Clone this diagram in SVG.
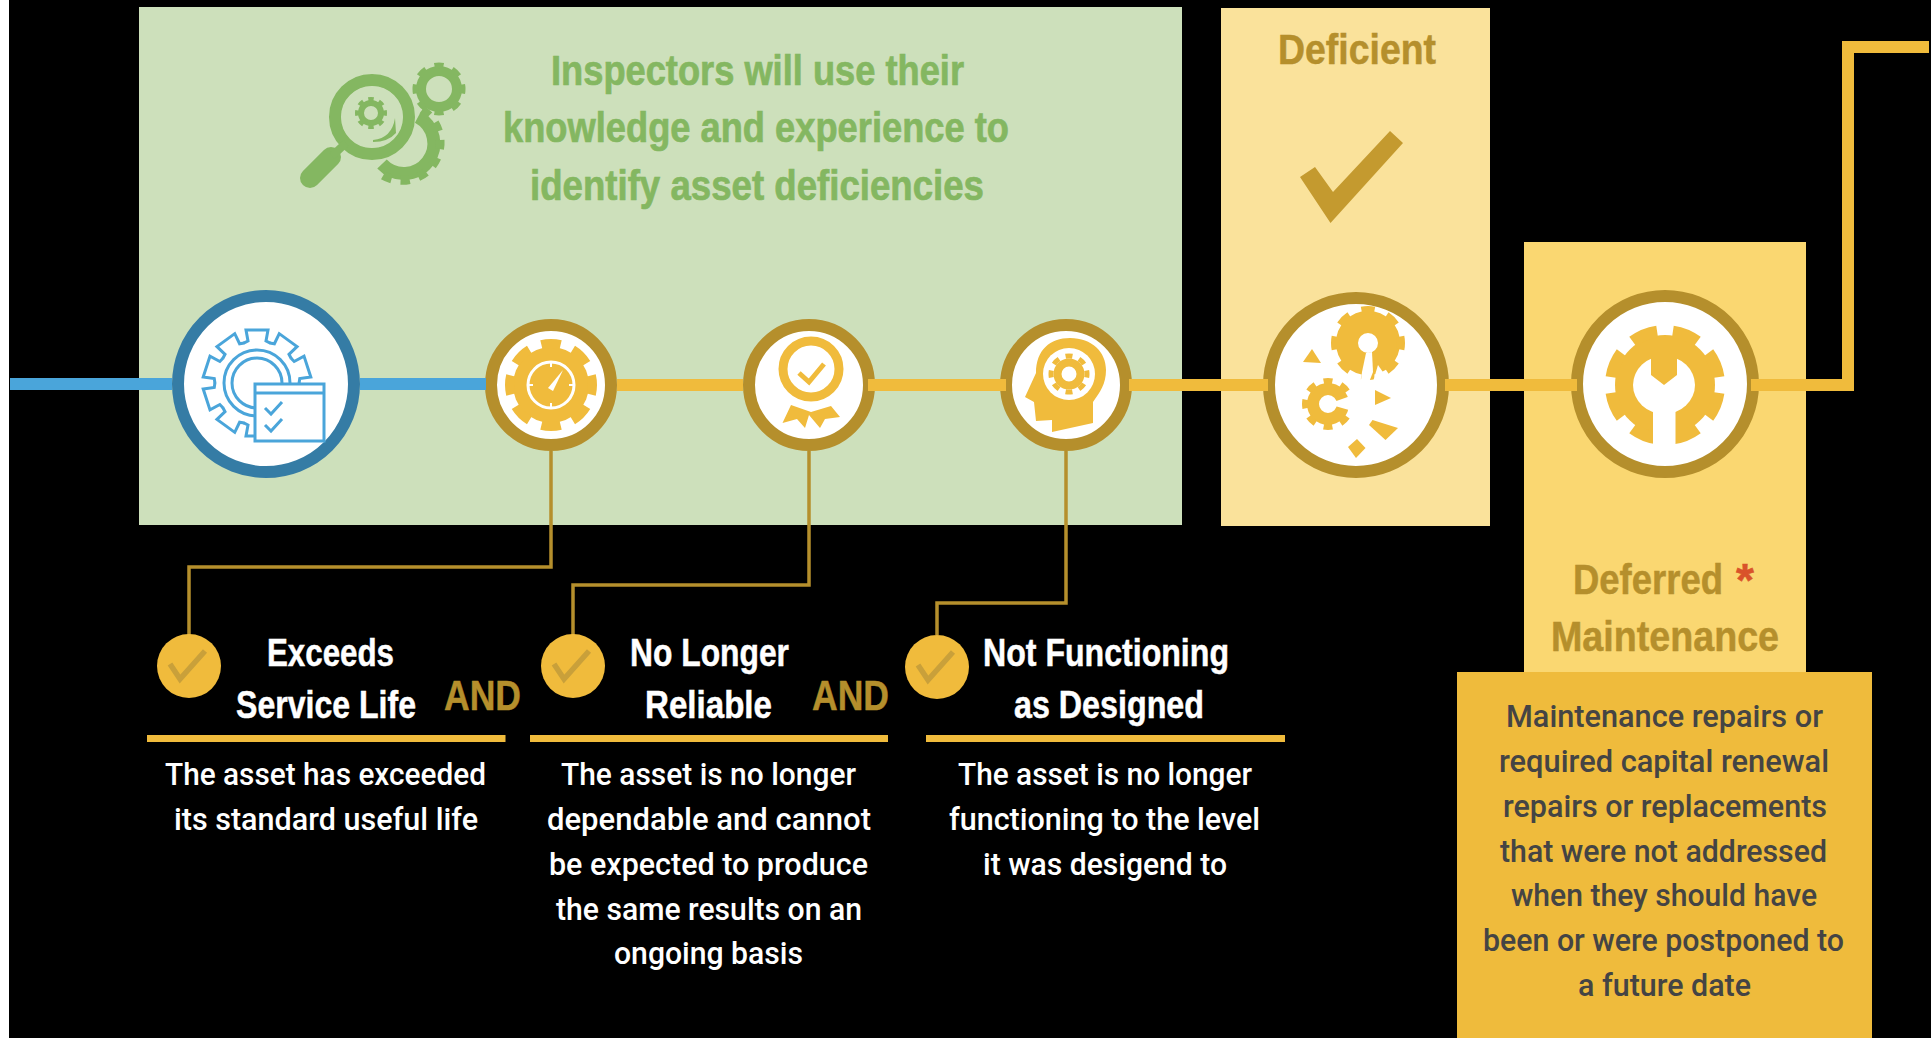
<svg xmlns="http://www.w3.org/2000/svg" width="1931" height="1038" viewBox="0 0 1931 1038">
<style>
.h{font-family:"Liberation Sans Narrow","Liberation Sans",sans-serif;font-weight:700}
.b{font-family:Roboto,"Liberation Sans",sans-serif;font-weight:500;font-size:32px;fill:#fff}
.hw{font-size:39px;fill:#fff;stroke:#fff;stroke-width:.5}
.and{font-size:43px;fill:#b58f2c;stroke:#b58f2c;stroke-width:.5}
.grn{font-size:42px;fill:#84b761;stroke:#84b761;stroke-width:.7}
.gold{font-size:42px;fill:#b58f2c;stroke:#b58f2c;stroke-width:.5}
.dk{fill:#444444}
.ring-b{fill:#fff;stroke:#357ca5;stroke-width:12}
.ring-g{fill:#fff;stroke:#b58f2c;stroke-width:12}
.y{fill:#f0bb3c}
.w{fill:#fff}
.main{fill:none;stroke:#f0bb3c;stroke-width:12}
.blue{fill:none;stroke:#4aa5da;stroke-width:12}
.thin{fill:none;stroke:#b58f2c;stroke-width:3.5}
.rule{fill:#f0bb3c}
.ol{fill:none;stroke:#4aa5da;stroke-width:3}
.chk{fill:none;stroke:#c9a03a;stroke-width:5.5}
</style>
<defs>
<path id="tooth" d="M-13.3-39.9L-9-42L-11-53H11L9-42L13.3-39.9"/>
<g id="tick"><circle r="32" class="y"/><path class="chk" d="M-19-2L-9 13L16-15"/></g>
</defs>
<rect width="1931" height="1038" fill="#000"/>
<rect width="9" height="1038" fill="#fff"/>

<rect id="panel-green" x="139" y="7" width="1043" height="518" fill="#cde0bb"/>
<rect id="panel-deficient" x="1221" y="8" width="269" height="518" fill="#fae29b"/>
<rect id="panel-deferred" x="1524" y="242" width="282" height="440" fill="#fad771"/>
<rect id="panel-definition" x="1457" y="672" width="415" height="366" fill="#efbb3c"/>

<g id="inspect-icon">
<circle cx="372" cy="117" r="37" fill="none" stroke="#84b761" stroke-width="12"/>
<path d="M310 178L331 157" stroke="#84b761" stroke-width="20" stroke-linecap="round" fill="none"/>
<path d="M332 156L346 143" stroke="#84b761" stroke-width="8" fill="none"/>
<circle cx="439" cy="89" r="18" fill="none" stroke="#84b761" stroke-width="10"/>
<circle cx="439" cy="89" r="23.5" fill="none" stroke="#84b761" stroke-width="6" pathLength="16" stroke-dasharray="1 1" stroke-dashoffset=".5"/>
<path d="M418 117A30 30 0 1 1 382 164" fill="none" stroke="#84b761" stroke-width="13"/>
<path d="M422 110A38 38 0 1 1 376 170" fill="none" stroke="#84b761" stroke-width="9" pathLength="14" stroke-dasharray="1 1"/>
<circle cx="372" cy="117" r="30.500" fill="#cde0bb"/>
<circle cx="371" cy="113" r="10" fill="none" stroke="#84b761" stroke-width="6"/>
<circle cx="371" cy="113" r="14" fill="none" stroke="#84b761" stroke-width="4" pathLength="16" stroke-dasharray="1 1" stroke-dashoffset=".5"/>
<path d="M373 140Q392 138 395 118L396 133Q388 142 373 142Z" fill="#84b761"/>
</g>

<g id="node-asset">
<circle class="ring-b" cx="266" cy="384" r="88"/>
<g class="ol" transform="translate(257 383)">
<use href="#tooth"/><use href="#tooth" transform="rotate(36)"/><use href="#tooth" transform="rotate(72)"/><use href="#tooth" transform="rotate(108)"/><use href="#tooth" transform="rotate(144)"/><use href="#tooth" transform="rotate(180)"/><use href="#tooth" transform="rotate(216)"/><use href="#tooth" transform="rotate(252)"/><use href="#tooth" transform="rotate(288)"/><use href="#tooth" transform="rotate(324)"/>
<circle r="33"/><circle r="25"/>
</g>
<rect x="255" y="384" width="69" height="57" fill="#fff" stroke="#4aa5da" stroke-width="3"/>
<path class="ol" d="M256 393H323M265 408L271 414L282 402M265 425L271 431L282 419"/>
</g>

<g id="node-service-life">
<circle class="ring-g" cx="551" cy="385" r="60"/>
<circle cx="551" cy="385" r="38" class="y"/>
<circle cx="551" cy="385" r="41.500" fill="none" stroke="#f0bb3c" stroke-width="9" pathLength="16" stroke-dasharray="1.2 .8" stroke-dashoffset=".6"/>
<circle cx="551" cy="385" r="23" fill="none" stroke="#fff" stroke-width="3"/>
<path d="M548 388L563 370L553 391Z" class="w"/>
<path d="M551 362V367M551 403V408M528 385H533M569 385H574" stroke="#fff" stroke-width="2"/>
</g>

<g id="node-reliable">
<circle class="ring-g" cx="809" cy="385" r="60"/>
<circle cx="811" cy="369" r="28" fill="none" stroke="#f0bb3c" stroke-width="9"/>
<path d="M799 373L809 382L824 364" fill="none" stroke="#f0bb3c" stroke-width="5"/>
<polygon class="y" points="791,405 782.5,423 797,419 805,428 809,415 820,428 825,419 840,417 831,406 811,412"/>
</g>

<g id="node-function">
<circle class="ring-g" cx="1066" cy="385" r="60"/>
<path class="y" d="M1052 432V420L1036 421L1034 402L1025 397L1036 373C1036 350 1050 338 1070 338C1092 338 1106 352 1106 370C1106 384 1100 392 1093 402V423Z"/>
<circle cx="1069" cy="374" r="26" class="w"/>
<circle cx="1069" cy="374" r="11.500" fill="none" stroke="#f0bb3c" stroke-width="8"/>
<circle cx="1069" cy="374" r="18" fill="none" stroke="#f0bb3c" stroke-width="5" pathLength="16" stroke-dasharray="1 1" stroke-dashoffset=".5"/>
</g>

<g id="node-deficient">
<circle class="ring-g" cx="1356" cy="385" r="87"/>
<circle cx="1368" cy="343" r="21" fill="none" stroke="#f0bb3c" stroke-width="22"/>
<circle cx="1368" cy="343" r="33" fill="none" stroke="#f0bb3c" stroke-width="8" pathLength="16" stroke-dasharray="1 1" stroke-dashoffset=".5"/>
<polygon class="w" points="1366,353 1372,352 1373,372 1366,390 1360,388 1362,372"/>
<polygon class="w" points="1378,365 1392,385 1372,385"/>
<circle cx="1328" cy="404" r="15" fill="none" stroke="#f0bb3c" stroke-width="12"/>
<circle cx="1328" cy="404" r="23" fill="none" stroke="#f0bb3c" stroke-width="6" pathLength="16" stroke-dasharray="1 1" stroke-dashoffset=".5"/>
<polygon class="w" points="1328,404 1356,394 1356,412"/>
<polygon class="y" points="1312,349 1303,362 1321,363"/>
<polygon class="y" points="1375,390 1391,398 1375,405"/>
<polygon class="y" points="1372.5,420 1398,428 1385.5,440 1369,425"/>
<polygon class="y" points="1357,439 1365.5,448 1356,458 1348,447"/>
</g>

<g id="node-deferred">
<circle class="ring-g" cx="1665" cy="384" r="88"/>
<circle cx="1665" cy="385" r="50" class="y"/>
<circle cx="1665" cy="385" r="54" fill="none" stroke="#f0bb3c" stroke-width="12" pathLength="16" stroke-dasharray="1.25 .75" stroke-dashoffset="-.375"/>
<ellipse cx="1664" cy="385" rx="31" ry="29" class="w"/>
<rect x="1653" y="390" width="22.5" height="60" class="w"/>
<polygon class="y" points="1651,352 1651,375 1664,385 1677,375 1677,352"/>
</g>

<g id="connectors">
<path class="blue" d="M10 384H172M360 384H486"/>
<path class="main" d="M617 385H743M868 385H1006M1129 385H1268M1445 385H1577M1751 385H1848V47H1929"/>
<path class="thin" d="M551 451V567H189V635"/>
<path class="thin" d="M809 451V585H573V635"/>
<path class="thin" d="M1066 451V603H937V635"/>
</g>

<g id="check-deficient"><polygon points="1390,131 1403,143 1330.5,223 1300,177 1315,167 1333,192" fill="#c49a2f"/></g>

<g id="intro-text">
<text class="h grn" x="551" y="85" textLength="413" lengthAdjust="spacingAndGlyphs">Inspectors will use their</text>
<text class="h grn" x="503" y="142" textLength="506" lengthAdjust="spacingAndGlyphs">knowledge and experience to</text>
<text class="h grn" x="530" y="200" textLength="454" lengthAdjust="spacingAndGlyphs">identify asset deficiencies</text>
</g>
<text class="h gold" x="1278" y="64" textLength="158" lengthAdjust="spacingAndGlyphs">Deficient</text>

<g id="criterion-1">
<use href="#tick" x="189" y="666"/>
<text class="h hw" x="267" y="666" textLength="127" lengthAdjust="spacingAndGlyphs">Exceeds</text>
<text class="h hw" x="236" y="718" textLength="180" lengthAdjust="spacingAndGlyphs">Service Life</text>
<text class="h and" x="444" y="710" textLength="77" lengthAdjust="spacingAndGlyphs">AND</text>
<rect class="rule" x="147" y="735" width="358.500" height="7"/>
<text class="b" x="165" y="785" textLength="321" lengthAdjust="spacingAndGlyphs">The asset has exceeded</text>
<text class="b" x="174" y="830" textLength="304" lengthAdjust="spacingAndGlyphs">its standard useful life</text>
</g>

<g id="criterion-2">
<use href="#tick" x="573" y="666"/>
<text class="h hw" x="630" y="666" textLength="159" lengthAdjust="spacingAndGlyphs">No Longer</text>
<text class="h hw" x="645" y="718" textLength="127" lengthAdjust="spacingAndGlyphs">Reliable</text>
<text class="h and" x="812" y="710" textLength="77" lengthAdjust="spacingAndGlyphs">AND</text>
<rect class="rule" x="530" y="735" width="358" height="7"/>
<text class="b" x="561" y="785" textLength="295" lengthAdjust="spacingAndGlyphs">The asset is no longer</text>
<text class="b" x="547" y="830" textLength="324" lengthAdjust="spacingAndGlyphs">dependable and cannot</text>
<text class="b" x="549" y="875" textLength="319" lengthAdjust="spacingAndGlyphs">be expected to produce</text>
<text class="b" x="556" y="920" textLength="306" lengthAdjust="spacingAndGlyphs">the same results on an</text>
<text class="b" x="614" y="964" textLength="189" lengthAdjust="spacingAndGlyphs">ongoing basis</text>
</g>

<g id="criterion-3">
<use href="#tick" x="937" y="667"/>
<text class="h hw" x="983" y="666" textLength="246" lengthAdjust="spacingAndGlyphs">Not Functioning</text>
<text class="h hw" x="1014" y="718" textLength="190" lengthAdjust="spacingAndGlyphs">as Designed</text>
<rect class="rule" x="926" y="735" width="359" height="7"/>
<text class="b" x="958" y="785" textLength="294" lengthAdjust="spacingAndGlyphs">The asset is no longer</text>
<text class="b" x="949" y="830" textLength="311" lengthAdjust="spacingAndGlyphs">functioning to the level</text>
<text class="b" x="983" y="875" textLength="244" lengthAdjust="spacingAndGlyphs">it was desigend to</text>
</g>

<g id="deferred-text">
<text class="h gold" y="594"><tspan x="1573" textLength="150" lengthAdjust="spacingAndGlyphs">Deferred</tspan><tspan x="1736" y="596" font-size="46" style="fill:#d9532a;stroke:#d9532a">*</tspan></text>
<text class="h gold" x="1551" y="651" textLength="228" lengthAdjust="spacingAndGlyphs">Maintenance</text>
<text class="b dk" style="fill:#444" x="1506" y="727" textLength="317" lengthAdjust="spacingAndGlyphs">Maintenance repairs or</text>
<text class="b dk" style="fill:#444" x="1499" y="772" textLength="330" lengthAdjust="spacingAndGlyphs">required capital renewal</text>
<text class="b dk" style="fill:#444" x="1503" y="817" textLength="324" lengthAdjust="spacingAndGlyphs">repairs or replacements</text>
<text class="b dk" style="fill:#444" x="1500" y="862" textLength="327" lengthAdjust="spacingAndGlyphs">that were not addressed</text>
<text class="b dk" style="fill:#444" x="1511" y="906" textLength="306" lengthAdjust="spacingAndGlyphs">when they should have</text>
<text class="b dk" style="fill:#444" x="1483" y="951" textLength="361" lengthAdjust="spacingAndGlyphs">been or were postponed to</text>
<text class="b dk" style="fill:#444" x="1578" y="996" textLength="173" lengthAdjust="spacingAndGlyphs">a future date</text>
</g>
</svg>
